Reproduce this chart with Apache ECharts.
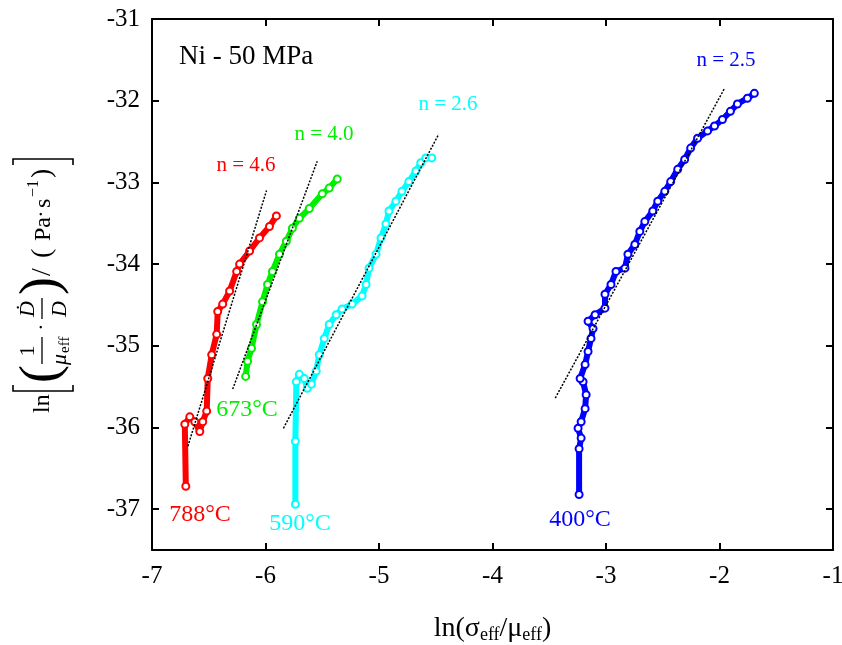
<!DOCTYPE html>
<html>
<head>
<meta charset="utf-8">
<script src="https://cdn.jsdelivr.net/npm/echarts@6/dist/echarts.min.js"></script>
<style>html,body{margin:0;padding:0;background:#fff;overflow:hidden}#c{width:842px;height:645px}</style>
</head>
<body>
<div id="c"></div>
<script>
// axis ticks
const xTicks = [-7, -6, -5, -4, -3, -2, -1];
const yTicks = [-37, -36, -35, -34, -33, -32, -31];

// 788°C (red)
const t788X = [-6.702, -6.711, -6.667, -6.623, -6.579, -6.553, -6.518, -6.509, -6.474, -6.430, -6.421, -6.377, -6.316, -6.254, -6.228, -6.140, -6.053, -5.965, -5.904];
const t788Y = [-36.72, -35.96, -35.87, -35.93, -36.05, -35.93, -35.80, -35.40, -35.11, -34.86, -34.58, -34.49, -34.33, -34.09, -34.00, -33.84, -33.68, -33.54, -33.41];

// 673°C (green)
const t673X = [-6.175, -6.158, -6.123, -6.079, -6.026, -5.982, -5.939, -5.877, -5.816, -5.763, -5.702, -5.614, -5.500, -5.439, -5.368];
const t673Y = [-35.375, -35.19, -35.03, -34.74, -34.46, -34.25, -34.09, -33.88, -33.72, -33.56, -33.44, -33.32, -33.14, -33.07, -32.96];

// 590°C (cyan)
const t590X = [-5.737, -5.737, -5.728, -5.702, -5.658, -5.632, -5.596, -5.553, -5.526, -5.482, -5.439, -5.377, -5.325, -5.237, -5.149, -5.114, -5.088, -5.026, -4.982, -4.939, -4.912, -4.851, -4.798, -4.737, -4.675, -4.632, -4.588, -4.535];
const t590Y = [-36.94, -36.17, -35.44, -35.35, -35.40, -35.52, -35.47, -35.31, -35.11, -34.91, -34.74, -34.62, -34.55, -34.49, -34.39, -34.25, -34.05, -33.88, -33.68, -33.51, -33.35, -33.23, -33.11, -32.99, -32.86, -32.76, -32.70, -32.70];

// 400°C (blue)
const t400X = [-3.237, -3.237, -3.219, -3.246, -3.219, -3.184, -3.175, -3.202, -3.228, -3.184, -3.158, -3.132, -3.114, -3.158, -3.096, -3.009, -3.009, -2.956, -2.912, -2.833, -2.807, -2.746, -2.702, -2.658, -2.588, -2.544, -2.482, -2.430, -2.368, -2.307, -2.254, -2.193, -2.105, -2.044, -1.974, -1.904, -1.842, -1.754, -1.693];
const t400Y = [-36.82, -36.26, -36.13, -36.01, -35.93, -35.77, -35.60, -35.44, -35.40, -35.23, -35.07, -34.91, -34.79, -34.70, -34.62, -34.54, -34.37, -34.25, -34.09, -34.05, -33.88, -33.76, -33.60, -33.48, -33.35, -33.23, -33.11, -32.99, -32.84, -32.72, -32.58, -32.46, -32.37, -32.31, -32.23, -32.13, -32.04, -31.97, -31.91];

// fitted lines (endpoints)
const fit788 = [[-6.684, -36.23], [-5.991, -33.10]];
const fit673 = [[-6.289, -35.53], [-5.544, -32.74]];
const fit590 = [[-5.842, -36.01], [-4.474, -32.41]];
const fit400 = [[-3.447, -35.64], [-1.956, -31.85]];

const FONT = 'Liberation Serif';
const zip = (xs, ys) => xs.map((x, i) => [x, ys[i]]);

function dataSeries(name, xs, ys, color) {
  return {
    name, type: 'line', data: zip(xs, ys),
    symbol: 'emptyCircle', symbolSize: 7,
    lineStyle: { color, width: 6 },
    itemStyle: { color, borderColor: color, borderWidth: 1.5 },
    z: 3, animation: false
  };
}
function fitSeries(pts) {
  return {
    type: 'line', data: pts, symbol: 'none',
    lineStyle: { color: '#000', width: 1.5, type: [2, 1.5] },
    z: 5, animation: false
  };
}

// text helper for graphic elements
function txt(text, x, y, font, fill, align) {
  return { type: 'text', x, y, z: 100,
    style: { text, font, fill: fill || '#000',
      align: align || 'center', verticalAlign: 'middle',
      textAlign: align || 'center', textVerticalAlign: 'middle' } };
}
const F = (s, it) => (it ? 'italic ' : '') + s + 'px "Liberation Serif"';

// y-axis title built in local (horizontal) coordinates, then rotated
const yTitle = {
  type: 'group', x: 43, y: 413, rotation: Math.PI / 2, z: 100,
  children: [
    txt('ln', 0, 0, F(24), '#000', 'left'),
    { type: 'polyline', shape: { points: [[28, -30], [22, -30], [22, 30], [28, 30]] }, style: { stroke: '#000', lineWidth: 1.6, fill: null } },
    txt('(', 30, 0, F(54), '#000', 'left'),
    txt('1', 62, -15, F(22)),
    { type: 'line', shape: { x1: 49, y1: -1, x2: 76, y2: -1 }, style: { stroke: '#000', lineWidth: 1.3 } },
    txt('μ', 48, 17, F(22, true), '#000', 'left'),
    txt('eff', 60, 22, F(15), '#000', 'left'),
    txt('·', 86, -1, F(22)),
    txt('Ḋ', 104, -15, F(22, true)),
    { type: 'line', shape: { x1: 94, y1: -1, x2: 115, y2: -1 }, style: { stroke: '#000', lineWidth: 1.3 } },
    txt('D', 104, 17, F(22, true)),
    txt(')', 118, 0, F(54), '#000', 'left'),
    txt('/', 137, 0, F(28), '#000', 'left'),
    txt('(', 155, 0, F(28), '#000', 'left'),
    txt('Pa', 172, 1, F(24), '#000', 'left'),
    txt('·', 199, -1, F(22)),
    txt('s', 205, 1, F(24), '#000', 'left'),
    txt('−1', 216, -9, F(16), '#000', 'left'),
    txt(')', 235, 0, F(28), '#000', 'left'),
    { type: 'polyline', shape: { points: [[248, -30], [254, -30], [254, 30], [248, 30]] }, style: { stroke: '#000', lineWidth: 1.6, fill: null } }
  ]
};

const chart = echarts.init(document.getElementById('c'));
const axisCommon = {
  axisLine: { show: true, lineStyle: { color: '#000', width: 2 } },
  axisTick: { show: true, inside: true, length: 7, lineStyle: { color: '#000', width: 2 } },
  splitLine: { show: false }
};
function yAxisDef(pos, showLabel) {
  const a = Object.assign({ type: 'value', min: -37.5, max: -31, position: pos }, axisCommon);
  a.axisTick = Object.assign({}, axisCommon.axisTick, { customValues: yTicks });
  a.axisLabel = showLabel
    ? { show: true, color: '#000', fontFamily: FONT, fontSize: 25, margin: 12, customValues: yTicks }
    : { show: false };
  return a;
}
chart.setOption({
  animation: false,
  backgroundColor: '#fff',
  grid: { left: 152, right: 9, top: 19, bottom: 95, containLabel: false, outerBoundsMode: 'none' },
  xAxis: [
    Object.assign({
      type: 'value', min: xTicks[0], max: xTicks[xTicks.length - 1], interval: 1, position: 'bottom',
      axisLabel: { color: '#000', fontFamily: FONT, fontSize: 25, margin: 14 },
      name: '{b|ln(σ}{s|eff}{b|/μ}{s|eff}{b|)}',
      nameLocation: 'middle', nameGap: 64,
      nameTextStyle: { rich: { b: { fontFamily: FONT, fontSize: 28, color: '#000' }, s: { fontFamily: FONT, fontSize: 18, color: '#000', padding: [12, 0, 0, 0] } } }
    }, axisCommon),
    Object.assign({
      type: 'value', min: xTicks[0], max: xTicks[xTicks.length - 1], interval: 1, position: 'top',
      axisLabel: { show: false }
    }, axisCommon)
  ],
  yAxis: [yAxisDef('left', true), yAxisDef('right', false)],
  series: [
    dataSeries('788°C', t788X, t788Y, '#ff0000'),
    dataSeries('673°C', t673X, t673Y, '#00ee00'),
    dataSeries('590°C', t590X, t590Y, '#00ffff'),
    dataSeries('400°C', t400X, t400Y, '#0000ff'),
    fitSeries(fit788), fitSeries(fit673), fitSeries(fit590), fitSeries(fit400)
  ],
  graphic: [
    yTitle,
    txt('Ni - 50 MPa', 179, 57, F(27), '#000', 'left'),
    txt('n = 4.6', 246, 165, F(21), '#ff0000'),
    txt('n = 4.0', 324, 134, F(21), '#00ee00'),
    txt('n = 2.6', 448, 104, F(21), '#00ffff'),
    txt('n = 2.5', 726, 60, F(21), '#0000ff'),
    txt('788°C', 200, 515, F(24), '#ff0000'),
    txt('673°C', 247, 410, F(24), '#00ee00'),
    txt('590°C', 300, 524, F(24), '#00ffff'),
    txt('400°C', 580, 520, F(24), '#0000ff')
  ]
});
</script>
</body>
</html>
